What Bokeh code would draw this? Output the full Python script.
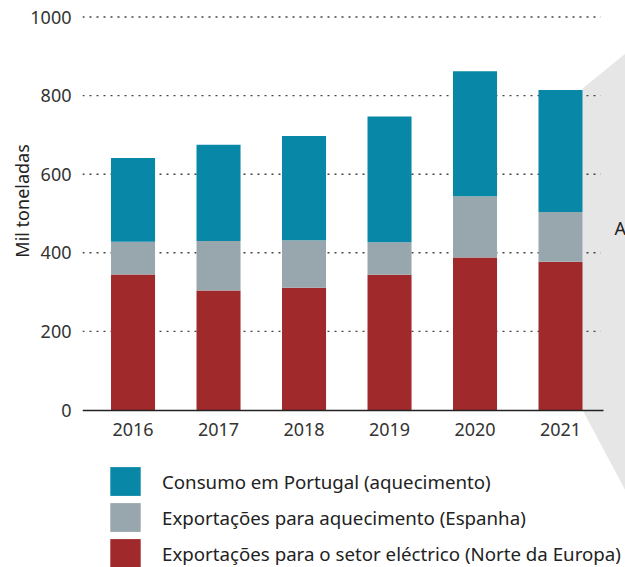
import math
from bokeh.plotting import figure
from bokeh.models import (ColumnDataSource, LinearAxis, FixedTicker, Legend,
                          LegendItem, Label, Range1d)
from bokeh.embed import file_html
from bokeh.resources import INLINE

# ---- data (thousand tonnes) ----
years = [2016, 2017, 2018, 2019, 2020, 2021]
electric_north_europe = [345, 304, 311, 344, 388, 377]
heating_spain = [83, 126, 121, 83, 156, 127]
consumption_portugal = [213, 245, 265, 320, 318, 310]
y_ticks = [0, 200, 400, 600, 800, 1000]

series_keys = ["electric", "spain", "portugal"]
series_labels = {
    "portugal": "Consumo em Portugal (aquecimento)",
    "spain": "Exportações para aquecimento (Espanha)",
    "electric": "Exportações para o setor eléctrico (Norte da Europa)",
}
series_colors = {"electric": "#a0292b", "spain": "#97a7ad", "portugal": "#0887a6"}
y_title = "Mil toneladas"

FONT = "Noto Sans"
BAR_W = 0.515
X_START, X_END = 2015.409, 2021.76
Y_START, Y_END = -400.76, 1042.0
PX_PER_YEAR = 85.5

src = ColumnDataSource(dict(year=years, electric=electric_north_europe,
                            spain=heating_spain, portugal=consumption_portugal))

p = figure(width=625, height=567, output_backend="svg", toolbar_location=None,
           x_range=Range1d(X_START, X_END), y_range=Range1d(Y_START, Y_END),
           x_axis_location=None, min_border_left=82, min_border_right=0,
           min_border_top=0, min_border_bottom=0)
p.grid.visible = False
p.outline_line_color = None
p.background_fill_color = "white"

# grey callout wedge pointing at the 2021 bar
last = years[-1]
total_last = electric_north_europe[-1] + heating_spain[-1] + consumption_portugal[-1]
edge = last + BAR_W / 2
p.patch(x=[edge, X_END, X_END, edge], y=[total_last + 4, 907, -205, 0],
        fill_color="#e6e6e6", line_color=None)

# dotted horizontal grid
grid_vals = y_ticks[1:]
p.segment(x0=[X_START] * len(grid_vals), y0=grid_vals,
          x1=[last + 0.47] * len(grid_vals), y1=grid_vals,
          line_color="#444444", line_width=1.4, line_dash="2 5")

# stacked bars
rs = p.vbar_stack(series_keys, x="year", width=BAR_W, source=src,
                  color=[series_colors[k] for k in series_keys], line_color=None)

# axes
xaxis = LinearAxis(fixed_location=0, ticker=FixedTicker(ticks=years),
                   bounds=(X_START, last + 0.5))
xaxis.major_tick_line_color = None
xaxis.minor_tick_line_color = None
xaxis.axis_line_color = "#222222"
xaxis.axis_line_width = 1.5
xaxis.major_label_text_font = FONT
xaxis.major_label_text_font_size = "18px"
xaxis.major_label_text_color = "#333333"
xaxis.major_label_standoff = 7
p.add_layout(xaxis, "below")

ya = p.yaxis[0]
ya.ticker = FixedTicker(ticks=y_ticks)
ya.axis_line_color = None
ya.major_tick_line_color = None
ya.minor_tick_line_color = None
ya.major_label_text_font = FONT
ya.major_label_text_font_size = "18px"
ya.major_label_text_color = "#333333"
ya.major_label_standoff = 5

# y-axis title, placed in the left border so it is not clipped by the frame
p.add_layout(Label(x=X_START - 61 / PX_PER_YEAR, y=532, text=y_title,
                   angle=math.pi / 2, text_font=FONT, text_font_size="18px",
                   text_color="#222222", text_align="center",
                   text_baseline="middle"), "left")

# legend
rmap = dict(zip(series_keys, rs))
items = [LegendItem(label=series_labels[k], renderers=[rmap[k]])
         for k in ["portugal", "spain", "electric"]]
legend = Legend(items=items, location=(24, -4), orientation="vertical",
                glyph_width=38, glyph_height=36, spacing=0, padding=0, margin=0,
                label_standoff=18, label_text_font=FONT, label_text_font_size="18.7px",
                label_text_color="#222222", border_line_color=None,
                background_fill_alpha=0)
p.add_layout(legend)

p.add_layout(Label(x=last + 0.63, y=462, text="A", text_font=FONT,
                   text_font_size="18px", text_color="#222222",
                   text_baseline="middle", text_align="left"))

open("out.html", "w").write(file_html(p, INLINE))
